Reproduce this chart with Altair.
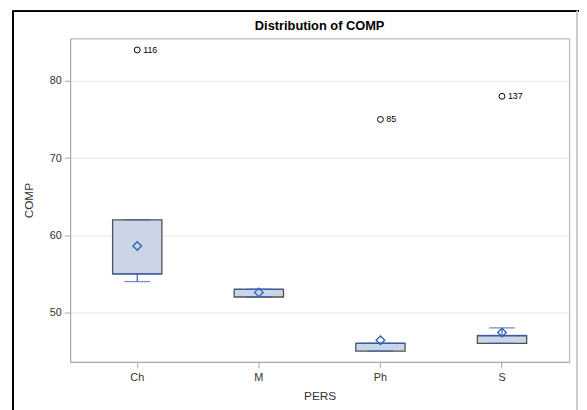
import altair as alt
import pandas as pd

# Data
pers = ["Ch", "M", "Ph", "S"]
whisk_lo = [54, 52, 45, 46]
q1 = [55, 52, 45, 46]
median = [55, 53, 46, 47]
q3 = [62, 53, 46, 47]
whisk_hi = [62, 53, 46, 48]
mean = [58.6, 52.6, 46.4, 47.4]

out_pers = ["Ch", "Ph", "S"]
out_val = [84, 75, 78]
out_id = ["116", "85", "137"]

FONT = "Liberation Sans"
BLUE = "#3560B8"
FILL = "#CAD5E6"

box_df = pd.DataFrame({"PERS": pers, "lo": whisk_lo, "q1": q1, "med": median,
                       "q3": q3, "hi": whisk_hi, "mean": mean})
out_df = pd.DataFrame({"PERS": out_pers, "COMP": out_val, "id": out_id})

x = alt.X("PERS:N", sort=pers, title="PERS",
          scale=alt.Scale(paddingInner=0, paddingOuter=0.052),
          axis=alt.Axis(labelAngle=0, tickSize=6, labelPadding=4, titlePadding=8,
                        domainColor="#A8A8A8", tickColor="#A8A8A8", grid=False))
yscale = alt.Scale(domain=[43.6, 85.5], nice=False, zero=False)
yaxis = alt.Axis(values=[50, 60, 70, 80], tickSize=6, labelPadding=3,
                 domainColor="#A8A8A8", tickColor="#A8A8A8", gridColor="#E6E6E6",
                 titleX=-42, titleY=164, titleBaseline="middle", titleAlign="center", titleAngle=270)

base = alt.Chart(box_df).encode(x=x)

whisk_low = base.mark_rule(color=BLUE, strokeWidth=1.2).encode(
    y=alt.Y("lo:Q", scale=yscale, axis=yaxis, title="COMP"), y2="q1:Q")
whisk_high = base.mark_rule(color=BLUE, strokeWidth=1.2).encode(
    y=alt.Y("q3:Q", scale=yscale), y2="hi:Q")
box = base.mark_bar(size=50, fill=FILL, stroke="#505050", strokeWidth=1.3).encode(
    y=alt.Y("q1:Q", scale=yscale), y2="q3:Q")
cap_lo = base.mark_tick(color=BLUE, size=26, thickness=1.3).encode(y=alt.Y("lo:Q", scale=yscale))
cap_hi = base.mark_tick(color=BLUE, size=26, thickness=1.3).encode(y=alt.Y("hi:Q", scale=yscale))
med = base.mark_tick(color=BLUE, size=50, thickness=1.6).encode(y=alt.Y("med:Q", scale=yscale))
mean_pt = base.mark_point(shape="diamond", size=75, color=BLUE, strokeWidth=1.4, filled=False,
                          opacity=1).encode(y=alt.Y("mean:Q", scale=yscale))

obase = alt.Chart(out_df).encode(x=alt.X("PERS:N", sort=pers), y=alt.Y("COMP:Q", scale=yscale))
outl = obase.mark_point(shape="circle", size=36, color="#000000", strokeWidth=1, filled=False, opacity=1)
olab = obase.mark_text(align="left", dx=6, fontSize=9, font=FONT, color="#000000").encode(text="id:N")

frame_l = alt.Chart(box_df).mark_rule(color="#000000", strokeWidth=1.5).encode(
    x=alt.value(-58), y=alt.value(-28), y2=alt.value(380))
frame_t = alt.Chart(box_df).mark_rule(color="#000000", strokeWidth=1.5).encode(
    x=alt.value(-58), x2=alt.value(520), y=alt.value(-27.5))
frame_r = alt.Chart(box_df).mark_rule(color="#C8C8C8", strokeWidth=1).encode(
    x=alt.value(514), y=alt.value(-28), y2=alt.value(380))

chart = alt.layer(
    whisk_low, whisk_high, box, cap_lo, cap_hi, med, mean_pt, outl, olab,
    frame_l, frame_t, frame_r
).properties(
    width=506, height=328,
    title=alt.TitleParams("Distribution of COMP", fontSize=13, font=FONT, fontWeight="bold",
                          anchor="middle", frame="group", offset=0, dy=23, color="#000000"),
    autosize=alt.AutoSizeParams(type="none"),
    padding={"left": 63, "top": 28, "right": 10, "bottom": 46},
    background="#FFFFFF",
).configure_view(stroke="#A8A8A8", strokeWidth=1).configure_axis(
    labelFont=FONT, titleFont=FONT, labelFontSize=11, titleFontSize=12,
    labelColor="#333333", titleColor="#333333", titleFontWeight="normal"
)

chart.save("out.html", embed_options={"renderer": "svg", "actions": False})
